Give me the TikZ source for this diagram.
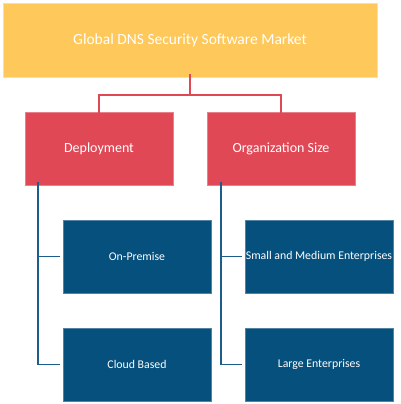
\documentclass[tikz,border=0pt]{standalone}
\usepackage{fontspec}
\setmainfont{Carlito}
\usepackage{tikz}
\usetikzlibrary{positioning,calc}
\definecolor{market}{HTML}{FEC85B}
\definecolor{segment}{HTML}{E14856}
\definecolor{sub}{HTML}{06507D}
\definecolor{subline}{HTML}{1D5D8C}

\tikzset{
  marketbox/.style={fill=market,draw=market!60!white,line width=0.6pt,
    minimum width=374pt,minimum height=74pt,text=white,font=\fontsize{15.5}{18}\selectfont},
  segbox/.style={fill=segment,draw=segment!70!white,line width=0.5pt,
    minimum width=148pt,minimum height=73pt,text=white,font=\fontsize{14}{16}\selectfont},
  subbox/.style={fill=sub,draw=sub!70!white,line width=0.4pt,
    minimum width=148pt,minimum height=73pt,inner sep=1pt,text=white,font=\fontsize{11.8}{14}\selectfont},
  redlink/.style={draw=segment,line width=1.8pt},
  bluelink/.style={draw=subline,line width=1.8pt}
}

\begin{document}
\begin{tikzpicture}[x=1pt,y=-1pt]
  \useasboundingbox (0,0) rectangle (400,404);

  \node[marketbox] (market) at (190,40) {Global DNS Security Software Market};

  \node[segbox] (deploy) at (99,148.5) {Deployment};
  \node[segbox] (orgsize) at (281,148.5) {Organization Size};

  \node[subbox] (onprem) at (137,256.5) {On-Premise};
  \node[subbox] (cloud) at (137,364.5) {Cloud Based};
  \node[subbox] (sme) at (319,256.5) {Small and Medium Enterprises};
  \node[subbox] (large) at (319,364.5) {Large Enterprises};

  % market to segments
  \coordinate (fork) at (190,95);
  \draw[redlink] ([yshift=3pt]market.south) -- (fork);
  \draw[redlink] ([yshift=-2pt]deploy.north) |- (fork) -| ([yshift=-2pt]orgsize.north);

  % segments to sub-segments
  \coordinate (dtrunk) at ([xshift=13pt,yshift=3pt]deploy.south west);
  \coordinate (otrunk) at ([xshift=14pt,yshift=3pt]orgsize.south west);
  \draw[bluelink] (dtrunk) |- ([xshift=-3pt]onprem.west);
  \draw[bluelink] (dtrunk) |- ([xshift=-3pt]cloud.west);
  \draw[bluelink] (otrunk) |- ([xshift=-3pt]sme.west);
  \draw[bluelink] (otrunk) |- ([xshift=-3pt]large.west);
\end{tikzpicture}
\end{document}
